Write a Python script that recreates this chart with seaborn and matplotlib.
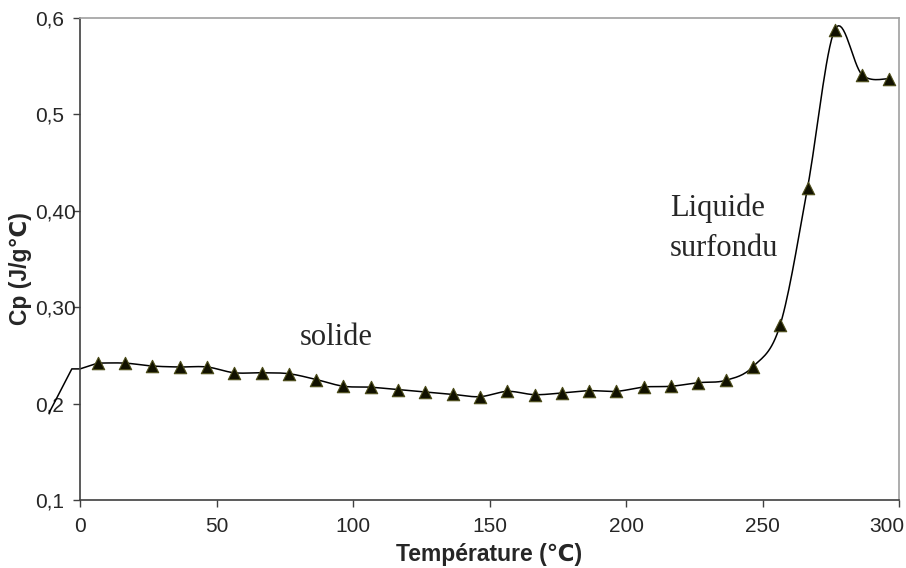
import numpy as np
import pandas as pd
import matplotlib
matplotlib.use("Agg")
import matplotlib.pyplot as plt
import matplotlib.transforms as mtransforms
import seaborn as sns

# data
temp = [6.5, 16.5, 26.5, 36.5, 46.5, 56.5, 66.5, 76.5, 86.5, 96.5,
        106.5, 116.5, 126.5, 136.5, 146.5, 156.5, 166.5, 176.5, 186.5, 196.5,
        206.5, 216.5, 226.5, 236.5, 246.5, 256.5, 266.5, 276.5, 286.5, 296.5]
cp = [0.242, 0.242, 0.239, 0.238, 0.238, 0.232, 0.232, 0.231, 0.225, 0.218,
      0.217, 0.2145, 0.212, 0.2096, 0.2072, 0.2127, 0.2093, 0.211, 0.2134, 0.2127,
      0.2172, 0.218, 0.2217, 0.2241, 0.2383, 0.282, 0.424, 0.588, 0.541, 0.537]
# short unmarked lead-in segment at the left edge
lead_t = [-11.4, -3.0, 0.0, 6.5]
lead_cp = [0.190, 0.236, 0.236, 0.242]

xticks = [0, 50, 100, 150, 200, 250, 300]
yticks = [0.1, 0.2, 0.3, 0.4, 0.5, 0.6]
ytick_labels = ["0,1", "0,2", "0,30", "0,40", "0,5", "0,6"]


def smooth(xs, ys, n=16):
    # Excel-like smoothed line: cubic Bezier between points, control points at 1/6
    p = np.column_stack([xs, ys])
    ext = np.vstack([p[0], p, p[-1]])
    out = []
    t = np.linspace(0, 1, n, endpoint=False)[:, None]
    for i in range(len(p) - 1):
        p0, p3 = ext[i + 1], ext[i + 2]
        c1 = p0 + (ext[i + 2] - ext[i]) / 6
        c2 = p3 - (ext[i + 3] - ext[i + 1]) / 6
        seg = ((1 - t) ** 3) * p0 + 3 * ((1 - t) ** 2) * t * c1 + 3 * (1 - t) * t ** 2 * c2 + t ** 3 * p3
        out.append(seg)
    out.append(p[-1:])
    return np.vstack(out)


sns.set_style("white")
plt.rcParams['font.family'] = ['Liberation Sans', 'DejaVu Sans']

fig, ax = plt.subplots(figsize=(9.06, 5.68), dpi=100)
fig.subplots_adjust(left=0.0883, right=0.9923, top=0.9683, bottom=0.1197)

curve = smooth(temp, cp)
df_curve = pd.DataFrame({"T": curve[:, 0], "Cp": curve[:, 1]})
sns.lineplot(data=df_curve, x="T", y="Cp", sort=False, estimator=None,
             color="black", linewidth=1.1, ax=ax)
sns.lineplot(x=lead_t, y=lead_cp, sort=False, estimator=None,
             color="black", linewidth=1.1, ax=ax)
for ln in ax.lines:
    ln.set_clip_on(False)

df_pts = pd.DataFrame({"T": temp, "Cp": cp})
sns.scatterplot(data=df_pts, x="T", y="Cp", marker="^", s=80,
                color="#111100", edgecolor="#4d4d1a", linewidth=0.8, ax=ax, zorder=3)

ax.set_xlim(0, 300)
ax.set_ylim(0.1, 0.6)
ax.set_xticks(xticks)
ax.set_yticks(yticks)
ax.set_yticklabels(ytick_labels)
for lab in ax.get_yticklabels():
    lab.set_horizontalalignment("left")

ax.tick_params(axis="y", direction="out", length=5, width=1, color="#404040",
               labelsize=15, pad=27)
ax.tick_params(axis="x", direction="out", length=5, width=1, color="#404040",
               labelsize=15, pad=7)
ax.tick_params(left=True, bottom=True)

# keep the last x label inside the figure, as in the original
last = ax.get_xticklabels()[-1]
last.set_transform(last.get_transform() +
                   mtransforms.ScaledTranslation(-12 / 100, 0, fig.dpi_scale_trans))

for side in ["left", "bottom"]:
    ax.spines[side].set_color("#404040")
    ax.spines[side].set_linewidth(1.2)
for side in ["top", "right"]:
    ax.spines[side].set_color("#a0a0a0")
    ax.spines[side].set_linewidth(1.2)

ax.set_xlabel("Température (\u2103)", fontsize=16.5, fontweight="bold", labelpad=5)
ax.set_ylabel("Cp (J/g\u2103)", fontsize=16.5, fontweight="bold")
ax.yaxis.set_label_coords(-0.0586, 0.48)

serif = ['Liberation Serif', 'DejaVu Serif']
ax.text(80.6, 0.2603, "solide", family=serif, fontsize=22, va="baseline", ha="left")
ax.text(216.1, 0.3947, "Liquide", family=serif, fontsize=22, va="baseline", ha="left")
ax.text(216.1, 0.3534, "surfondu", family=serif, fontsize=22, va="baseline", ha="left")

fig.savefig("out.png", dpi=100)
